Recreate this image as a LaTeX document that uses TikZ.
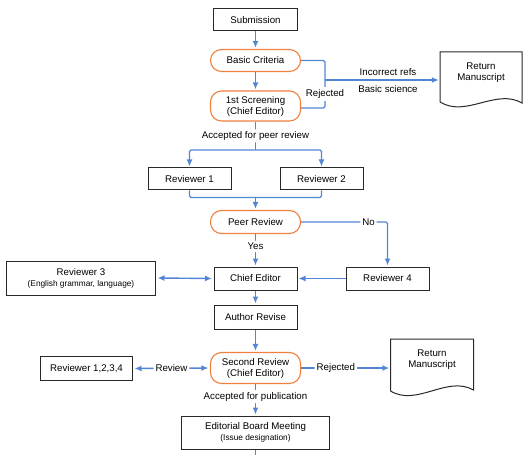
\documentclass[tikz,border=0pt]{standalone}
\usepackage{fontspec}
\setmainfont{Liberation Sans}
\usetikzlibrary{arrows.meta,calc}
\definecolor{flowblue}{RGB}{82,134,212}
\definecolor{floworange}{RGB}{240,128,64}
\definecolor{boxline}{RGB}{40,40,40}
\newcommand{\smalltxt}{\fontsize{8.3}{10}\selectfont}
\begin{document}
\begin{tikzpicture}[x=1pt,y=-1pt,
  every node/.style={font=\fontsize{9.7}{11}\selectfont},
  box/.style={draw=boxline, line width=1pt, fill=white, inner sep=0pt, align=center},
  rbox/.style={draw=floworange, line width=1.1pt, rounded corners=11pt, fill=white, inner sep=0pt, align=center},
  conn/.style={draw=flowblue, line width=1.4pt, rounded corners=1.5pt},
  arr/.style={conn, -{Latex[length=7pt,width=6pt]}, shorten >=1pt},
  darr/.style={conn, {Latex[length=7pt,width=6pt]}-{Latex[length=7pt,width=6pt]}, shorten >=1.5pt, shorten <=1.5pt},
  lbl/.style={fill=white, inner sep=2pt},
  docline/.style={draw=boxline, line width=1pt, fill=white}]
\useasboundingbox (0,0) rectangle (532,470);

% nodes
\node[box, minimum width=84pt, minimum height=22pt] (sub) at (255.5,20) {Submission};
\node[rbox, minimum width=90pt, minimum height=22pt] (bc) at (255.5,60.5) {Basic Criteria};
\node[rbox, minimum width=90pt, minimum height=30pt] (fs) at (255.5,106) {1st Screening\\(Chief Editor)};
\node[box, minimum width=83pt, minimum height=22pt] (r1) at (189.5,179) {Reviewer 1};
\node[box, minimum width=83pt, minimum height=22pt] (r2) at (321.5,179) {Reviewer 2};
\node[rbox, minimum width=90pt, minimum height=23pt] (pr) at (255.5,222) {Peer Review};
\node[box, minimum width=83pt, minimum height=23pt] (ce) at (255.5,278.5) {Chief Editor};
\node[box, minimum width=149pt, minimum height=34pt] (r3) at (81,278) {Reviewer 3\\{\smalltxt (English grammar, language)}};
\node[box, minimum width=83pt, minimum height=23pt] (r4) at (387.5,278.5) {Reviewer 4};
\node[box, minimum width=83pt, minimum height=24pt] (ar) at (255.5,317) {Author Revise};
\node[rbox, minimum width=90pt, minimum height=31pt] (sr) at (255.5,368) {Second Review\\(Chief Editor)};
\node[box, minimum width=92pt, minimum height=24pt] (rq) at (86.5,368.5) {Reviewer 1,2,3,4};
\node[box, minimum width=148pt, minimum height=33pt] (eb) at (255.5,432.5) {Editorial Board Meeting\\{\smalltxt (Issue designation)}};

% return manuscript documents
\node[minimum width=82pt, minimum height=52pt, inner sep=0pt] (rm1) at (481,78) {};
\draw[docline, shift={(rm1.center)}] (-41,-26) -- (41,-26) -- (41,25) .. controls (15,10) and (-15,40) .. (-41,24) -- cycle;
\node[align=center] at ([yshift=5.5pt]rm1.center) {Return\\Manuscript};

\node[minimum width=83pt, minimum height=54pt, inner sep=0pt] (rm2) at (432,366) {};
\draw[docline, shift={(rm2.center)}] (-41.5,-27) -- (41.5,-27) -- (41.5,24) .. controls (15,9) and (-15,41) .. (-41.5,25) -- cycle;
\node[align=center] at ([yshift=6.3pt]rm2.center) {Return\\Manuscript};

% connectors
\draw[arr] (sub.south) -- (bc.north);
\draw[arr] (bc.south) -- (fs.north);
\coordinate (rj) at (325,80);
\draw[conn] (bc.east) -| (rj) |- ([yshift=-2pt]fs.east);
\node[lbl] at (325,94) {Rejected};
\draw[arr] (rj) -- (rj -| rm1.west);
\node at (388,72) {Incorrect refs};
\node at (388,89) {Basic science};

\coordinate (sp) at (255.5,150);
\draw[conn] (fs.south) -- (sp) node[lbl, midway] {Accepted for peer review};
\draw[arr] (sp) -| (r1.north);
\draw[arr] (sp) -| (r2.north);
\coordinate (jm) at (255.5,197.5);
\draw[conn] (r1.south) |- (jm);
\draw[conn] (r2.south) |- (jm);
\draw[arr] (jm) -- (pr.north);

\draw[arr] (pr.east) -| (r4.north) node[lbl, pos=0.39] {No};
\draw[arr] (pr.south) -- (ce.north) node[lbl, pos=0.38] {Yes};
\draw[darr] (r3.east) -- (ce.west);
\draw[arr] (r4.west) -- (ce.east);
\draw[arr] (ce.south) -- (ar.north);
\draw[arr] (ar.south) -- (sr.north);
\draw[darr] (rq.east) -- (sr.west) node[lbl, midway] {Review};
\draw[arr] (sr.east) -- (sr.east -| rm2.west) node[lbl, pos=0.39] {Rejected};
\draw[arr] (sr.south) -- (eb.north) node[lbl, pos=0.4] {Accepted for publication};
\coordinate (tail) at (255.5,455);
\draw[conn] (eb.south) -- (tail);
\end{tikzpicture}
\end{document}
